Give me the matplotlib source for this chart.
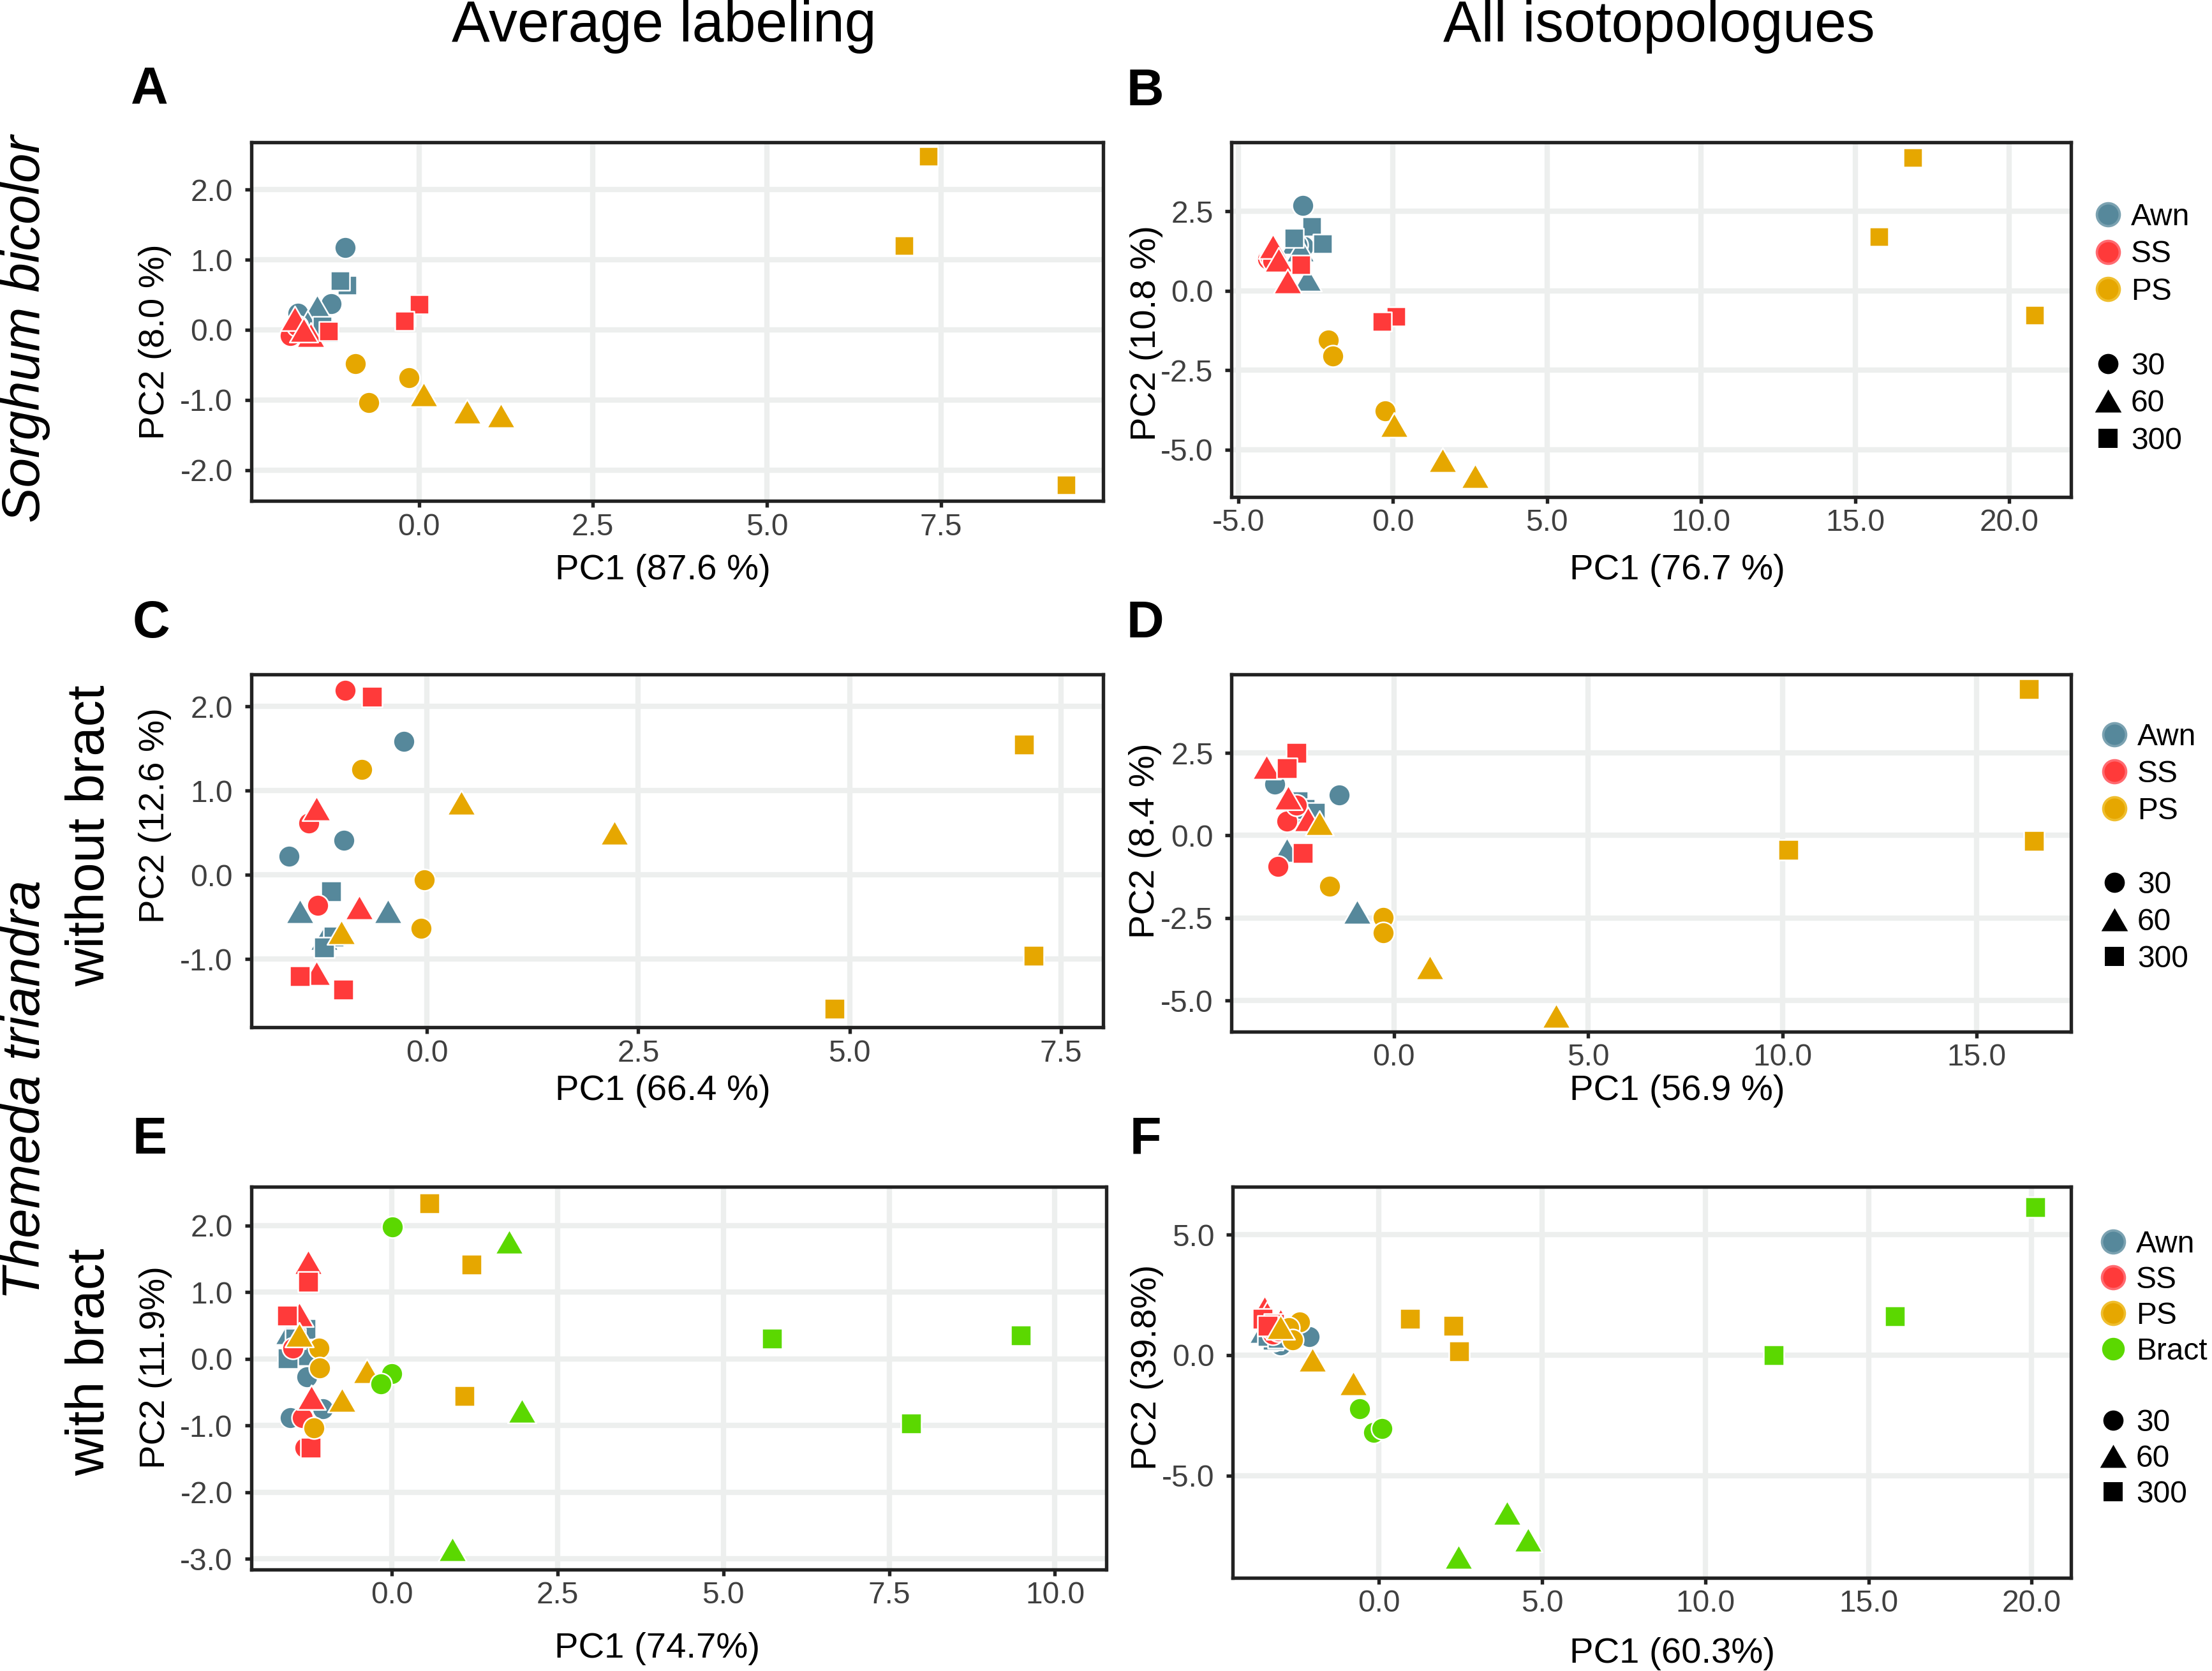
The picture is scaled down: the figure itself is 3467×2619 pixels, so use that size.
import matplotlib
matplotlib.use("Agg")
import matplotlib.pyplot as plt
from matplotlib.lines import Line2D
from matplotlib.path import Path

plt.rcParams['font.family'] = ['Liberation Sans', 'DejaVu Sans']

# ---------------- data ----------------
TISSUE3 = ['Awn'] * 9 + ['SS'] * 9 + ['PS'] * 9
TISSUE4 = TISSUE3 + ['Bract'] * 9
TIME3 = [30, 30, 30, 60, 60, 60, 300, 300, 300] * 3
TIME4 = [30, 30, 30, 60, 60, 60, 300, 300, 300] * 4

# A: Sorghum, average labeling
A_pc1 = [-1.06, -1.26, -1.74, -1.46, -1.60, -1.35, -1.03, -1.13, -1.39,
         -1.81, -1.85, -1.75, -1.78, -1.55, -1.65, 0.00, -0.21, -1.30,
         -0.91, -0.14, -0.72, 0.07, 0.69, 1.18, 7.32, 6.97, 9.30]
A_pc2 = [1.17, 0.37, 0.24, 0.33, 0.10, 0.00, 0.64, 0.70, 0.05,
         -0.01, -0.08, 0.05, 0.16, -0.07, 0.00, 0.36, 0.13, -0.02,
         -0.48, -0.68, -1.04, -0.92, -1.16, -1.22, 2.47, 1.20, -2.21]

# B: Sorghum, all isotopologues
B_pc1 = [-2.91, -2.90, -3.10, -3.17, -2.77, -3.00, -2.62, -2.28, -3.20,
         -4.05, -3.98, -3.90, -3.90, -3.70, -3.42, -2.98, 0.11, -0.35,
         -2.09, -1.94, -0.24, 0.05, 1.62, 2.68, 16.87, 15.77, 20.83]
B_pc2 = [2.69, 1.40, 1.45, 1.55, 0.39, 1.30, 2.03, 1.49, 1.66,
         1.00, 1.06, 0.95, 1.40, 0.98, 0.31, 0.83, -0.81, -0.97,
         -1.54, -2.05, -3.77, -4.21, -5.33, -5.82, 4.20, 1.70, -0.76]

# C: Themeda without bract, average labeling
C_pc1 = [-0.27, -0.98, -1.63, -1.50, -0.46, -1.22, -1.13, -1.10, -1.22,
         -0.97, -1.40, -1.29, -1.31, -0.80, -1.31, -0.65, -1.50, -0.99,
         -0.77, -0.03, -0.07, 0.41, 2.22, -1.01, 7.06, 4.82, 7.18]
C_pc2 = [1.59, 0.41, 0.22, -0.43, -0.43, -0.75, -0.19, -0.73, -0.86,
         2.19, 0.62, -0.36, 0.79, -0.38, -1.16, 2.12, -1.20, -1.36,
         1.25, -0.06, -0.63, 0.86, 0.50, -0.68, 1.55, -1.59, -0.96]

# D: Themeda without bract, all isotopologues
D_pc1 = [-3.07, -1.41, -2.60, -2.76, -0.95, -2.30, -2.48, -2.29, -2.04,
         -2.75, -2.98, -2.51, -3.28, -2.73, -2.21, -2.51, -2.76, -2.35,
         -1.66, -0.27, -0.27, -1.91, 0.93, 4.17, 16.34, 10.16, 16.48]
D_pc2 = [1.56, 1.23, 0.85, -0.43, -2.30, 0.70, 1.03, 0.80, 0.68,
         0.44, -0.94, 0.91, 2.08, 1.14, 0.50, 2.50, 2.04, -0.53,
         -1.54, -2.49, -2.95, 0.37, -3.99, -5.45, 4.43, -0.43, -0.17]

# E: Themeda with bract, average labeling
E_pc1 = [-1.28, -1.04, -1.53, -1.31, -1.55, -1.35, -1.57, -1.30, -1.45,
         -1.49, -1.35, -1.31, -1.26, -1.39, -1.21, -1.26, -1.58, -1.22,
         -1.10, -1.09, -1.17, -1.39, -0.37, -0.75, 0.57, 1.20, 1.10,
         0.01, 0.00, -0.16, 1.77, 1.96, 0.91, 5.73, 9.49, 7.83]
E_pc2 = [-0.27, -0.75, -0.88, 0.08, 0.40, 0.50, 0.01, 0.45, 0.30,
         0.16, -0.88, -1.33, 1.45, 0.67, -0.58, 1.16, 0.65, -1.33,
         0.16, -0.14, -1.04, 0.36, -0.18, -0.62, 2.33, 1.41, -0.56,
         1.98, -0.22, -0.38, 1.76, -0.78, -2.86, 0.30, 0.35, -0.97]

# F: Themeda with bract, all isotopologues
F_pc1 = [-2.14, -3.02, -3.20, -3.54, -3.30, -2.95, -3.25, -3.40, -3.10,
         -3.25, -3.30, -3.10, -3.51, -3.42, -3.02, -3.57, -3.20, -3.40,
         -2.42, -2.76, -2.64, -3.01, -2.03, -0.78, 0.95, 2.29, 2.45,
         -0.60, -0.16, 0.10, 2.43, 3.92, 4.57, 12.1, 15.8, 20.1]
F_pc2 = [0.77, 0.42, 0.60, 1.00, 0.90, 0.80, 0.64, 0.80, 0.70,
         0.86, 1.10, 1.00, 1.95, 1.71, 1.42, 1.50, 1.30, 1.20,
         1.38, 1.13, 0.64, 1.17, -0.20, -1.17, 1.50, 1.20, 0.15,
         -2.23, -3.22, -3.06, -8.37, -6.56, -7.66, 0.00, 1.60, 6.15]

X_LABELS = ['PC1 (87.6 %)', 'PC1 (76.7 %)', 'PC1 (66.4 %)', 'PC1 (56.9 %)', 'PC1 (74.7%)', 'PC1 (60.3%)']
Y_LABELS = ['PC2 (8.0 %)', 'PC2 (10.8 %)', 'PC2 (12.6 %)', 'PC2 (8.4 %)', 'PC2 (11.9%)', 'PC2 (39.8%)']
X_TICKS = [[0, 2.5, 5, 7.5], [-5, 0, 5, 10, 15, 20], [0, 2.5, 5, 7.5],
           [0, 5, 10, 15], [0, 2.5, 5, 7.5, 10], [0, 5, 10, 15, 20]]
Y_TICKS = [[-2, -1, 0, 1, 2], [-5, -2.5, 0, 2.5], [-1, 0, 1, 2],
           [-5, -2.5, 0, 2.5], [-3, -2, -1, 0, 1, 2], [-5, 0, 5]]
TISSUE_ORDER = ['Awn', 'SS', 'PS', 'Bract']
TIME_ORDER = [30, 60, 300]

# ---------------- style ----------------
COLORS = {'Awn': '#56889B', 'SS': '#FF3A3A', 'PS': '#E6A700', 'Bract': '#5BD800'}
EDGE_LIGHT = {'Awn': '#7BA2B1', 'SS': '#FF6A70', 'PS': '#EFBE2E', 'Bract': '#5BD800'}
TRI = Path([(0, 0.433), (-0.5, -0.433), (0.5, -0.433), (0, 0.433)],
           [Path.MOVETO, Path.LINETO, Path.LINETO, Path.CLOSEPOLY])
MARKERS = {30: 'o', 60: TRI, 300: 's'}

W, H = 3467, 2619
RW, RH = 1568.0, 1184.0
fig = plt.figure(figsize=(W / 300, H / 300), dpi=300)


def rect(l, r, t, b):
    return [l / RW, 1 - b / RH, (r - l) / RW, (b - t) / RH]


panels = [
    dict(pos=rect(178, 782, 101, 355), x=A_pc1, y=A_pc2, tis=TISSUE3, tim=TIME3, sq=50,
         xlim=(-2.41, 9.83), ylim=(-2.44, 2.67), xl=(0.483, -0.194), yl=(-0.113, 0.445)),
    dict(pos=rect(873, 1468, 101, 352), x=B_pc1, y=B_pc2, tis=TISSUE3, tim=TIME3, sq=50,
         xlim=(-5.23, 22.0), ylim=(-6.48, 4.67), xl=(0.531, -0.207), yl=(-0.101, 0.462)),
    dict(pos=rect(178, 782, 478, 728), x=C_pc1, y=C_pc2, tis=TISSUE3, tim=TIME3, sq=60,
         xlim=(-2.08, 8.0), ylim=(-1.81, 2.38), xl=(0.483, -0.18), yl=(-0.113, 0.60)),
    dict(pos=rect(873, 1468, 478, 731), x=D_pc1, y=D_pc2, tis=TISSUE3, tim=TIME3, sq=60,
         xlim=(-4.18, 17.43), ylim=(-5.94, 4.87), xl=(0.531, -0.166), yl=(-0.1025, 0.534)),
    dict(pos=rect(178, 784, 841, 1112), x=E_pc1, y=E_pc2, tis=TISSUE4, tim=TIME4, sq=60,
         xlim=(-2.12, 10.77), ylim=(-3.16, 2.58), xl=(0.475, -0.207), yl=(-0.112, 0.528)),
    dict(pos=rect(874, 1468, 841, 1118), x=F_pc1, y=F_pc2, tis=TISSUE4, tim=TIME4, sq=60,
         xlim=(-4.47, 21.2), ylim=(-9.25, 6.98), xl=(0.524, -0.195), yl=(-0.1027, 0.538)),
]

axes = []
for i, p in enumerate(panels):
    ax = fig.add_axes(p['pos'])
    axes.append(ax)
    sizes = {30: 66, 60: 115, 300: p['sq']}
    for tissue in TISSUE_ORDER:
        for tm in TIME_ORDER:
            xs = [xv for xv, ts, tt in zip(p['x'], p['tis'], p['tim']) if ts == tissue and tt == tm]
            ys = [yv for yv, ts, tt in zip(p['y'], p['tis'], p['tim']) if ts == tissue and tt == tm]
            if xs:
                ax.scatter(xs, ys, s=sizes[tm], marker=MARKERS[tm], c=COLORS[tissue],
                           edgecolors='white', linewidths=0.6, zorder=3)
    ax.set_xlim(*p['xlim'])
    ax.set_ylim(*p['ylim'])
    xt = X_TICKS[i]
    yt = Y_TICKS[i]
    ax.set_xticks(xt, labels=[f'{v:.1f}' for v in xt])
    ax.set_yticks(yt, labels=[f'{v:.1f}' for v in yt])
    ax.grid(True, color='#EDEFEE', linewidth=2.0)
    ax.set_axisbelow(True)
    for sp in ax.spines.values():
        sp.set_linewidth(1.3)
        sp.set_color('#222222')
    ax.tick_params(length=2.4, width=1.3, color='#222222', labelsize=11.5,
                   labelcolor='#404040')
    ax.tick_params(axis='x', pad=2.0)
    ax.tick_params(axis='y', pad=4.5)
    ax.set_xlabel(X_LABELS[i], fontsize=13.5, color='black')
    ax.set_ylabel(Y_LABELS[i], fontsize=13.5, color='black')
    ax.xaxis.set_label_coords(*p['xl'])
    ax.yaxis.set_label_coords(*p['yl'])
    ax.xaxis.label.set_va('center')
    ax.yaxis.label.set_va('center')


def add_legend(ax, tissues, left_px, top_px, spacing):
    handles = []
    for t in tissues:
        ms = 7.6 if t == 'Bract' else 8.6
        handles.append(Line2D([], [], ls='', marker='o', ms=ms, mfc=COLORS[t],
                              mec=EDGE_LIGHT[t], mew=0.9, label=t))
    handles.append(Line2D([], [], ls='', marker='', label=' '))
    handles.append(Line2D([], [], ls='', marker='o', ms=7.6, mfc='black', mec='black', mew=0, label='30'))
    handles.append(Line2D([], [], ls='', marker=TRI, ms=10.0, mfc='black', mec='black', mew=0, label='60'))
    handles.append(Line2D([], [], ls='', marker='s', ms=7.3, mfc='black', mec='black', mew=0, label='300'))
    ax.legend(handles=handles, loc='upper left',
              bbox_to_anchor=(left_px / W, 1 - top_px / H), bbox_transform=fig.transFigure,
              frameon=False, fontsize=11.5, handlelength=1.0, handletextpad=0.25,
              labelspacing=spacing, borderpad=0, borderaxespad=0)


add_legend(axes[1], ['Awn', 'SS', 'PS'], 3280, 318, 0.28)
add_legend(axes[3], ['Awn', 'SS', 'PS'], 3290, 1133, 0.27)
add_legend(axes[5], ['Awn', 'SS', 'PS', 'Bract'], 3288, 1928, 0.23)

# panel letters
for letter, (lx, ly) in zip('ABCDEF', [(106, 63.5), (812, 65), (107, 442), (812, 442), (106, 808), (812, 808)]):
    fig.text(lx / RW, 1 - ly / RH, letter, fontsize=19.5, fontweight='bold', ha='center', va='center')

# column titles
fig.text(470.8 / RW, 1 - 65 / H, 'Average labeling', fontsize=21.5, ha='center', va='baseline')
fig.text(1176 / RW, 1 - 65 / H, 'All isotopologues', fontsize=21.5, ha='center', va='baseline')

# row labels
fig.text(18 / RW, 1 - 233 / RH, 'Sorghum bicolor', fontsize=20, style='italic', rotation=90, ha='center', va='center')
fig.text(18 / RW, 1 - 772 / RH, 'Themeda triandra', fontsize=20, style='italic', rotation=90, ha='center', va='center')
fig.text(64 / RW, 1 - 592 / RH, 'without bract', fontsize=20, rotation=90, ha='center', va='center')
fig.text(64 / RW, 1 - 965 / RH, 'with bract', fontsize=20, rotation=90, ha='center', va='center')

fig.savefig('out.png', dpi=300)
